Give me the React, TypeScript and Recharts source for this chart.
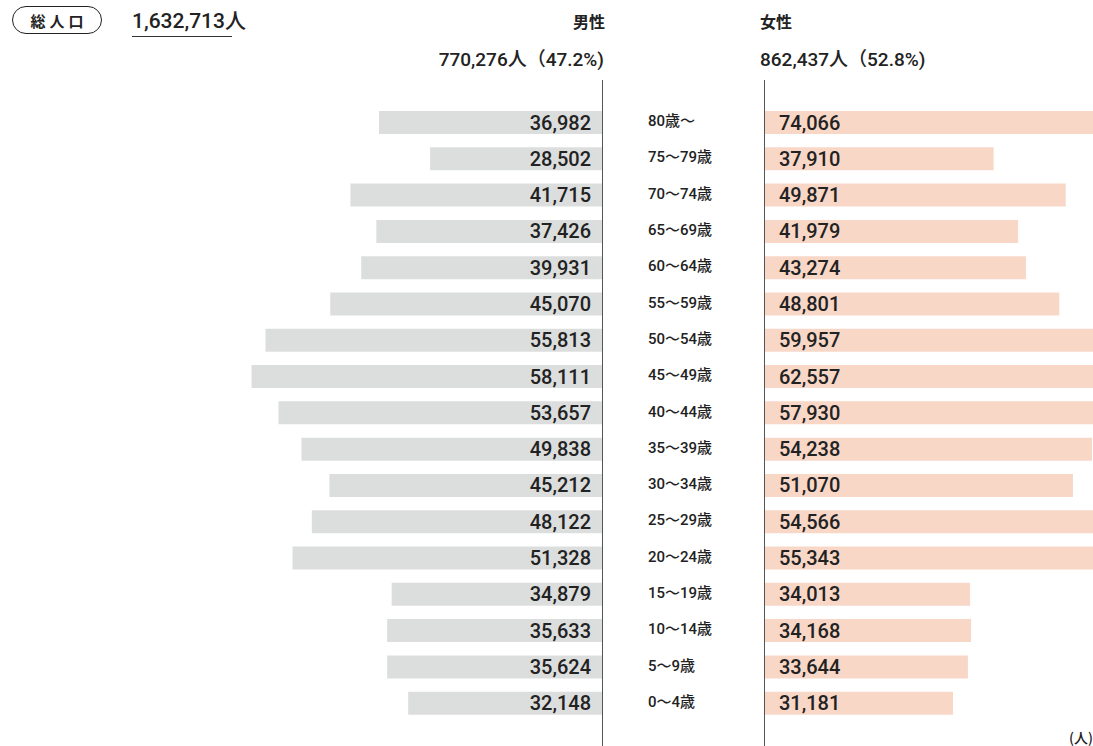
import React from 'react';
import { BarChart, Bar, XAxis, YAxis, LabelList } from 'recharts';

const ages = ['80歳〜', '75〜79歳', '70〜74歳', '65〜69歳', '60〜64歳', '55〜59歳', '50〜54歳', '45〜49歳', '40〜44歳', '35〜39歳', '30〜34歳', '25〜29歳', '20〜24歳', '15〜19歳', '10〜14歳', '5〜9歳', '0〜4歳'];
const male = [36982, 28502, 41715, 37426, 39931, 45070, 55813, 58111, 53657, 49838, 45212, 48122, 51328, 34879, 35633, 35624, 32148];
const female = [74066, 37910, 49871, 41979, 43274, 48801, 59957, 62557, 57930, 54238, 51070, 54566, 55343, 34013, 34168, 33644, 31181];

const totalLabel = '1,632,713人';
const maleTotal = '770,276人（47.2%)';
const femaleTotal = '862,437人（52.8%)';

const rows = ages.map((age, i) => ({ age, male: male[i], female: female[i] }));

const NUM_FONT = 'Roboto, "Noto Sans CJK JP", sans-serif';
const JP_FONT = '"Noto Sans CJK JP", Roboto, sans-serif';
const fmt = (v: number) => v.toLocaleString('en-US');

const MaleLabel = (props: any) => {
    const { x, y, width, height, value } = props;
    const right = Math.max(x, x + width);
    return (
        <text x={right - 11} y={y + height / 2} dy={7} textAnchor="end" fill="#222" fontSize={20} fontWeight={500} fontFamily={NUM_FONT}>
            {fmt(value)}
        </text>
    );
};

const FemaleLabel = (props: any) => {
    const { x, y, width, height, value } = props;
    const left = Math.min(x, x + width);
    return (
        <text x={left + 14} y={y + height / 2} dy={7} textAnchor="start" fill="#222" fontSize={20} fontWeight={500} fontFamily={NUM_FONT}>
            {fmt(value)}
        </text>
    );
};

const AgeTick = (props: any) => {
    const { y, payload } = props;
    return (
        <text x={0} y={y} dy={4} textAnchor="start" fill="#222" fontSize={15} fontWeight={500} fontFamily={NUM_FONT}>
            {payload.value}
        </text>
    );
};

const chartHeight = 617;
const axisLine: React.CSSProperties = { position: 'absolute', top: 80, width: 1, height: 666, background: '#555' };

export default function App() {
    return (
        <div style={{ position: 'absolute', left: 0, top: 0, width: 1093, height: 746, overflow: 'hidden', background: '#fff', fontFamily: JP_FONT, color: '#222' }}>
            {/* header */}
            <div style={{ position: 'absolute', left: 12, top: 6, width: 90, height: 28, border: '1.5px solid #222', borderRadius: 15, display: 'flex', alignItems: 'center', justifyContent: 'center', fontSize: 15, fontWeight: 700, letterSpacing: 4, paddingLeft: 4, boxSizing: 'border-box' }}>
                総人口
            </div>
            <div style={{ position: 'absolute', left: 132, top: 4, fontSize: 21, fontWeight: 500, fontFamily: NUM_FONT, whiteSpace: 'nowrap' }}>{totalLabel}</div>
            <div style={{ position: 'absolute', left: 132, top: 36, width: 100, height: 1, background: '#333' }} />

            <div style={{ position: 'absolute', right: 1093 - 605, top: 9, fontSize: 16, fontWeight: 700 }}>男性</div>
            <div style={{ position: 'absolute', right: 1093 - 604, top: 44, fontSize: 19, fontWeight: 500, fontFamily: NUM_FONT, whiteSpace: 'nowrap' }}>{maleTotal}</div>
            <div style={{ position: 'absolute', left: 760, top: 9, fontSize: 16, fontWeight: 700 }}>女性</div>
            <div style={{ position: 'absolute', left: 760, top: 44, fontSize: 19, fontWeight: 500, fontFamily: NUM_FONT, whiteSpace: 'nowrap' }}>{femaleTotal}</div>

            {/* male side */}
            <div style={{ position: 'absolute', left: -1, top: 104 }}>
                <BarChart width={603} height={chartHeight} data={rows} layout="vertical" margin={{ top: 0, right: 0, bottom: 0, left: 0 }}>
                    <XAxis type="number" domain={[0, 100000]} reversed hide />
                    <YAxis type="category" dataKey="age" hide />
                    <Bar dataKey="male" fill="#dcdedd" barSize={23} isAnimationActive={false}>
                        <LabelList dataKey="male" content={<MaleLabel />} />
                    </Bar>
                </BarChart>
            </div>

            {/* female side, with age labels */}
            <div style={{ position: 'absolute', left: 648, top: 104 }}>
                <BarChart width={720} height={chartHeight} data={rows} layout="vertical" margin={{ top: 0, right: 0, bottom: 0, left: 0 }}>
                    <XAxis type="number" domain={[0, 100000]} hide />
                    <YAxis type="category" dataKey="age" width={117} axisLine={false} tickLine={false} tick={<AgeTick />} interval={0} />
                    <Bar dataKey="female" fill="#f8d7c7" barSize={23} isAnimationActive={false}>
                        <LabelList dataKey="female" content={<FemaleLabel />} />
                    </Bar>
                </BarChart>
            </div>

            <div style={{ ...axisLine, left: 602 }} />
            <div style={{ ...axisLine, left: 764 }} />

            <div style={{ position: 'absolute', right: 0, top: 727, fontSize: 14, fontWeight: 500, whiteSpace: 'nowrap' }}>(人)</div>
        </div>
    );
}
